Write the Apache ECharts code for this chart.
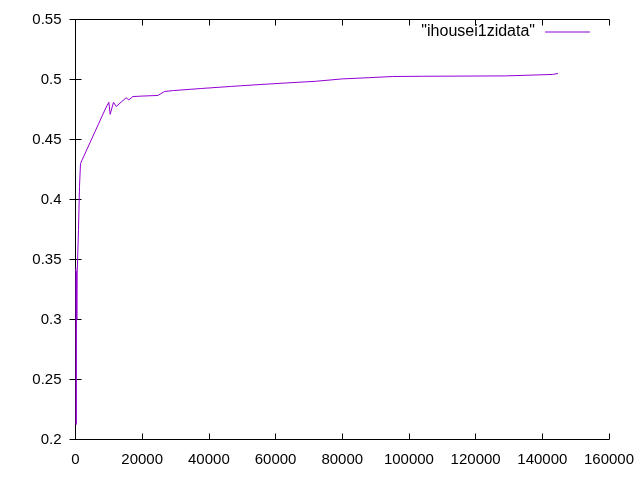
<!DOCTYPE html>
<html><head><meta charset="utf-8">
<script src="https://cdn.jsdelivr.net/npm/echarts@6/dist/echarts.min.js"></script>
<style>html,body{margin:0;padding:0;background:#fff}#c{width:640px;height:480px}</style>
</head><body><div id="c"></div>
<script>
const seriesName = '"ihousei1zidata"';
const xs = [100, 200, 300, 400, 500, 800, 900, 1100, 1200, 1400, 1500, 2000, 9200, 10000, 10400, 11400, 12200, 15200, 16000, 17200, 20200, 24700, 26700, 29400, 37700, 46500, 55300, 63700, 72000, 80000, 88000, 95000, 104000, 129000, 143000, 144700];
const ys = [0.343, 0.2125, 0.34, 0.3, 0.338, 0.337, 0.375, 0.375, 0.411, 0.411, 0.43, 0.431, 0.477, 0.481, 0.471, 0.481, 0.4775, 0.4848, 0.483, 0.4858, 0.4862, 0.4867, 0.49, 0.4908, 0.4925, 0.4942, 0.4958, 0.4972, 0.4985, 0.5005, 0.5015, 0.5025, 0.5027, 0.503, 0.5042, 0.505];
const font = 'Liberation Sans, Arial, sans-serif';
const fs = 15;
const data = xs.map((x, i) => [x, ys[i]]);
const chart = echarts.init(document.getElementById('c'), null, {renderer: 'canvas'});
const axisLine = {show: true, lineStyle: {color: '#000', width: 1}};
const tick = {show: true, inside: true, length: 6, lineStyle: {color: '#000'}};
chart.setOption({
  animation: false,
  backgroundColor: '#fff',
  grid: {left: 75.5, right: 31, top: 19.5, bottom: 40.5, containLabel: false},
  legend: {
    show: true, right: 50, top: 24, padding: 0, align: 'right', itemWidth: 45, itemHeight: 1, itemGap: 0,
    data: [{name: seriesName, icon: 'rect'}],
    textStyle: {fontFamily: font, fontSize: 16, color: '#000', padding: [0, 5, 0, 0]}
  },
  xAxis: [
    {type: 'value', min: 0, max: 160000, interval: 20000, axisLine, axisTick: tick, splitLine: {show: false},
     axisLabel: {fontFamily: font, fontSize: fs, color: '#000', margin: 13, formatter: v => String(v)}},
    {type: 'value', position: 'top', min: 0, max: 160000, interval: 20000, axisLine, axisTick: tick, splitLine: {show: false},
     axisLabel: {show: false}}
  ],
  yAxis: [
    {type: 'value', min: 0.2, max: 0.55, interval: 0.05, axisLine, axisTick: tick, splitLine: {show: false},
     axisLabel: {fontFamily: font, fontSize: fs, color: '#000', margin: 14, formatter: v => String(+v.toFixed(2))}},
    {type: 'value', position: 'right', min: 0.2, max: 0.55, interval: 0.05, axisLine, axisTick: tick, splitLine: {show: false},
     axisLabel: {show: false}}
  ],
  series: [{
    name: seriesName, type: 'line', data, showSymbol: false, symbol: 'none',
    lineStyle: {color: '#9400d3', width: 1}, itemStyle: {color: '#9400d3'}
  }]
});
</script></body></html>
